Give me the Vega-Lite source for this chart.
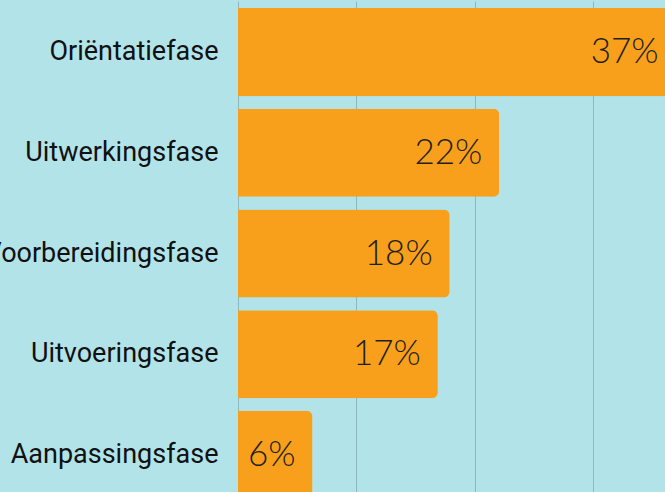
{
  "$schema": "https://vega.github.io/schema/vega-lite/v6.json",
  "autosize": {"type": "none"},
  "padding": {"left": 238, "top": 8, "right": 0, "bottom": 0},
  "width": 427,
  "height": 484,
  "background": "#b2e3e8",
  "config": {"view": {"stroke": null}},
  "data": {"values": [
    {"fase": "Oriëntatiefase", "pct": 37, "label": "37%"},
    {"fase": "Uitwerkingsfase", "pct": 22.1, "label": "22%"},
    {"fase": "Voorbereidingsfase", "pct": 17.9, "label": "18%"},
    {"fase": "Uitvoeringsfase", "pct": 16.9, "label": "17%"},
    {"fase": "Aanpassingsfase", "pct": 6.3, "label": "6%"}
  ]},
  "encoding": {
    "y": {
      "field": "fase", "type": "nominal", "sort": null,
      "scale": {"range": [0, 491], "paddingInner": 0.125, "paddingOuter": 0},
      "axis": {"title": null, "ticks": false, "domain": false, "labelFont": "Roboto", "labelFontSize": 27, "labelColor": "#111111", "labelPadding": 20, "labelLimit": 0}
    },
    "x": {
      "field": "pct", "type": "quantitative",
      "scale": {"domain": [0, 40], "range": [0, 473], "nice": false},
      "axis": {"title": null, "labels": false, "ticks": false, "domain": false, "values": [0, 10, 20, 30, 40], "grid": true, "gridColor": "#8fb6bb", "gridWidth": 1}
    }
  },
  "layer": [
    {"mark": {"type": "bar", "color": "#f8a01c", "cornerRadiusEnd": 6}},
    {"mark": {"type": "text", "align": "right", "baseline": "middle", "dx": -17, "font": "Lato", "fontSize": 35, "fontWeight": 300, "color": "#1e1e1e"},
     "encoding": {"text": {"field": "label", "type": "nominal"}}}
  ]
}
